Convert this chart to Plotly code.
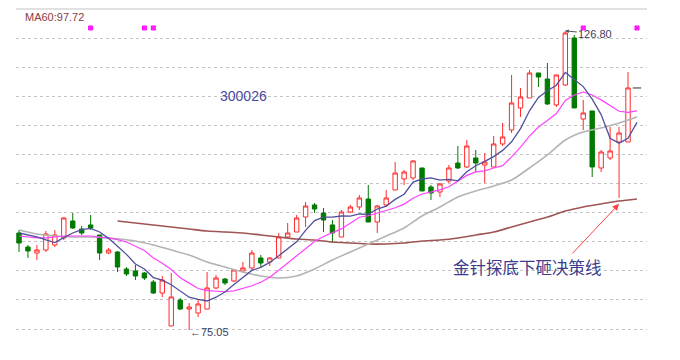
import plotly.graph_objects as go

# ---------------- data ----------------
idx = list(range(70))

opens = [91.83, 89.41, 88.37, 88.89, 89.76, 90.97, 93.91, 92.52, 93.22, 91.49,
         88.37, 88.54, 85.60, 85.26, 84.91, 83.35, 81.45, 75.74, 80.24, 78.68,
         77.99, 78.68, 82.32, 83.87, 83.53, 85.26, 85.78, 87.51, 86.81, 87.51,
         91.14, 92.00, 94.60, 96.68, 95.29, 93.22, 91.14, 95.46, 96.33, 97.71,
         93.73, 96.68, 99.27, 101.17, 101.35, 103.08, 99.79, 98.92, 100.83, 103.94,
         103.25, 104.81, 103.60, 103.25, 107.23, 109.65, 113.46, 115.19, 119.51, 118.47,
         113.98, 117.44, 125.57, 111.55, 112.94, 103.08, 104.81, 107.57, 107.57, 116.92]
highs = [92.35, 89.76, 89.76, 92.18, 92.35, 94.60, 95.29, 93.04, 94.95, 91.49,
         89.24, 88.72, 85.95, 86.30, 85.08, 83.70, 84.39, 84.91, 80.59, 79.72,
         80.41, 85.08, 84.57, 84.05, 85.43, 86.81, 88.89, 88.03, 87.68, 91.83,
         93.56, 94.95, 97.19, 97.02, 96.16, 94.08, 95.81, 96.68, 98.41, 100.14,
         96.68, 99.27, 104.11, 102.73, 104.46, 103.08, 100.14, 100.48, 103.60, 106.88,
         107.92, 106.19, 105.67, 108.61, 110.86, 119.17, 116.92, 120.03, 119.51, 121.24,
         119.17, 126.80, 126.09, 114.84, 112.94, 106.19, 110.17, 110.17, 119.68, 116.92]
lows = [88.54, 87.51, 87.16, 88.54, 89.41, 90.62, 92.52, 91.49, 92.35, 87.16,
        88.20, 85.08, 84.39, 83.70, 83.70, 81.28, 80.76, 75.74, 78.51, 75.05,
        77.30, 78.68, 82.14, 82.84, 83.35, 84.91, 85.43, 85.95, 86.12, 87.51,
        90.97, 92.00, 92.87, 95.29, 92.00, 90.10, 91.14, 95.29, 95.81, 93.73,
        91.83, 96.33, 99.27, 100.14, 101.00, 99.10, 97.54, 98.06, 100.48, 102.90,
        103.08, 102.38, 100.48, 103.25, 106.88, 109.13, 111.90, 115.19, 117.09, 113.98,
        113.63, 117.26, 113.46, 109.65, 101.52, 102.38, 104.46, 97.90, 107.57, 116.92]
closes = [90.10, 88.72, 88.89, 91.66, 91.49, 94.43, 92.70, 91.83, 92.70, 88.37,
          88.89, 85.95, 84.74, 84.39, 84.05, 81.45, 83.70, 80.76, 78.68, 79.03,
          79.55, 82.32, 84.05, 83.18, 85.43, 85.78, 88.37, 86.64, 87.51, 91.14,
          91.83, 94.43, 96.50, 95.98, 94.08, 91.83, 95.46, 96.33, 97.89, 93.73,
          96.50, 97.89, 102.21, 102.38, 104.29, 99.10, 98.75, 100.31, 103.08, 103.08,
          106.88, 103.94, 104.11, 107.23, 108.44, 114.32, 115.36, 119.51, 118.82, 114.15,
          119.17, 126.43, 113.46, 112.59, 103.25, 105.84, 106.02, 109.13, 116.92, 116.92]

ma5 = [91.83, 91.49, 91.14, 90.62, 90.17, 91.04, 91.83, 92.42, 92.63, 92.00,
       90.90, 89.55, 88.13, 86.47, 85.60, 84.12, 83.67, 82.87, 81.73, 80.72,
       80.34, 80.07, 80.72, 81.62, 82.90, 84.15, 85.36, 85.88, 86.74, 87.89,
       89.10, 90.31, 92.28, 93.98, 94.56, 94.56, 94.77, 94.74, 95.12, 95.05,
       95.98, 96.47, 97.64, 98.54, 100.65, 101.17, 101.35, 100.97, 101.10, 100.86,
       102.42, 103.46, 104.22, 105.05, 106.12, 107.61, 109.89, 112.97, 115.29, 116.43,
       117.40, 119.61, 118.40, 117.16, 114.98, 112.31, 108.23, 107.37, 108.23, 110.96]
ma10 = [91.31, 91.14, 90.97, 90.97, 91.14, 91.31, 91.31, 91.31, 91.31, 91.09,
        90.97, 90.69, 90.27, 89.55, 88.80, 87.51, 86.61, 85.50, 84.10, 83.16,
        82.23, 81.86, 81.80, 81.67, 81.81, 82.25, 82.71, 83.30, 84.18, 85.40,
        86.62, 87.83, 89.08, 90.36, 91.23, 91.83, 92.54, 93.51, 94.55, 94.81,
        95.27, 95.62, 96.19, 96.83, 97.85, 98.58, 98.91, 99.30, 99.82, 100.76,
        101.80, 102.40, 102.59, 103.08, 103.49, 105.01, 106.67, 108.59, 110.17, 111.28,
        112.50, 114.75, 115.69, 116.22, 115.71, 114.86, 113.92, 112.89, 112.70, 112.97]
ma30_idx = [0, 2, 4, 6, 8, 10, 13, 15, 17, 19, 21, 23, 25, 27, 29, 31, 33, 35, 37, 39,
            41, 43, 45, 47, 49, 51, 53, 55, 57, 59, 61, 63, 65, 67, 69]
ma30 = [92.35, 91.66, 91.31, 91.14, 91.14, 90.97, 90.45, 89.76, 88.89, 88.03,
        86.81, 85.95, 85.08, 84.39, 84.05, 84.39, 85.60, 87.16, 88.54, 89.93,
        91.31, 92.70, 94.77, 96.33, 98.06, 99.10, 99.96, 101.00, 103.08, 105.33,
        107.92, 109.30, 109.99, 110.86, 111.90]
ma60_idx = [11, 13, 15, 17, 19, 21, 23, 25, 27, 29, 31, 33, 35, 37, 39, 41, 43, 45, 47, 49,
            51, 53, 55, 57, 59, 61, 63, 65, 67, 69]
ma60 = [93.91, 93.56, 93.22, 92.87, 92.52, 92.18, 92.00, 91.83, 91.49, 91.14,
        90.79, 90.62, 90.27, 90.10, 89.93, 89.93, 90.10, 90.45, 90.62, 90.97,
        91.49, 92.00, 92.87, 93.73, 94.60, 95.64, 96.33, 96.85, 97.37, 97.72]

signal_idx = [8, 14, 15, 63, 69]
signal_level = 127.3

ma60_label = "MA60:97.72"
code_label = "300026"
low_label = "←75.05"
high_label = "126.80"
note_label = "金针探底下砸决策线"
high_idx, low_idx, touch_idx = 61, 19, 67

# ---------------- figure ----------------
fig = go.Figure()

n = len(idx) - 1  # last bar is a flat (one-price) bar drawn as a dash
fig.add_trace(go.Candlestick(
    x=idx[:n], open=opens[:n], high=highs[:n], low=lows[:n], close=closes[:n],
    increasing=dict(line=dict(color="#ff2a2a", width=1), fillcolor="#ffffff"),
    decreasing=dict(line=dict(color="#007a00", width=1), fillcolor="#007a00"),
    whiskerwidth=0, hoverinfo="skip"))

fig.add_trace(go.Scatter(x=idx[n:], y=closes[n:], mode="markers",
                         marker=dict(symbol="line-ew", size=6,
                                     line=dict(color="#505050", width=1.2)),
                         hoverinfo="skip"))

fig.add_trace(go.Scatter(x=ma60_idx, y=ma60, mode="lines",
                         line=dict(color="#a05454", width=1.6, shape="spline", smoothing=0.8),
                         hoverinfo="skip"))
fig.add_trace(go.Scatter(x=ma30_idx, y=ma30, mode="lines",
                         line=dict(color="#b4b4b4", width=1.6, shape="spline", smoothing=0.8),
                         hoverinfo="skip"))
fig.add_trace(go.Scatter(x=idx, y=ma10, mode="lines",
                         line=dict(color="#ff40ff", width=1.2), hoverinfo="skip"))
fig.add_trace(go.Scatter(x=idx, y=ma5, mode="lines",
                         line=dict(color="#50509c", width=1.3), hoverinfo="skip"))

fig.add_trace(go.Scatter(x=signal_idx, y=[signal_level] * len(signal_idx), mode="markers",
                         marker=dict(symbol="square-x", size=4, color="#ff66ff",
                                     line=dict(color="#ff00ff", width=1)),
                         hoverinfo="skip"))

# top border line
fig.add_shape(type="line", xref="paper", yref="paper", x0=0, x1=1, y0=1, y1=1,
              line=dict(color="#c4c4c4", width=1.2))

fig.add_annotation(xref="paper", yref="paper", x=0.011, y=0.977, text=ma60_label,
                   showarrow=False, xanchor="left", yanchor="middle",
                   font=dict(family="Arial", size=11, color="#8c3c3c"))
fig.add_annotation(x=25.1, y=115.5, text=code_label, showarrow=False,
                   xanchor="center", yanchor="middle",
                   font=dict(family="Arial", size=14, color="#4848a0"))
fig.add_annotation(x=low_idx - 0.1, y=lows[low_idx] - 0.35, text=low_label, showarrow=False,
                   xanchor="left", yanchor="middle",
                   font=dict(family="Arial", size=11, color="#3c3c5c"))
fig.add_annotation(x=high_idx, y=highs[high_idx], text=high_label, showarrow=True,
                   ax=30, ay=3, arrowhead=2, arrowsize=0.7, arrowwidth=1,
                   arrowcolor="#505060",
                   font=dict(family="Arial", size=11, color="#3c3c5c"))
fig.add_annotation(x=56.8, y=85.95, text=note_label, showarrow=False,
                   xanchor="center", yanchor="middle",
                   font=dict(family="Noto Sans CJK SC", size=16.5, color="#3c3c8c"))
fig.add_annotation(x=touch_idx, y=ma60[-2] - 0.5, text="", showarrow=True,
                   ax=-48, ay=51, arrowhead=2, arrowsize=1.3, arrowwidth=1,
                   arrowcolor="#ff4040")

# the page body adds an 8px offset, so the figure is sized/margined to compensate
fig.update_layout(
    width=672, height=352,
    margin=dict(l=8, r=33, t=1, b=10),
    paper_bgcolor="white", plot_bgcolor="white",
    showlegend=False,
    xaxis=dict(range=[-0.335, 70.12], showticklabels=False, showgrid=False,
               zeroline=False, showline=False, rangeslider=dict(visible=False),
               fixedrange=True),
    yaxis=dict(range=[71.59, 130.58], tick0=75.22, dtick=5.034, showticklabels=False,
               showgrid=True, gridcolor="#c4c4c4", griddash="dot", gridwidth=1,
               zeroline=False, showline=False, ticks="", fixedrange=True),
)

fig.write_html("out.html")
